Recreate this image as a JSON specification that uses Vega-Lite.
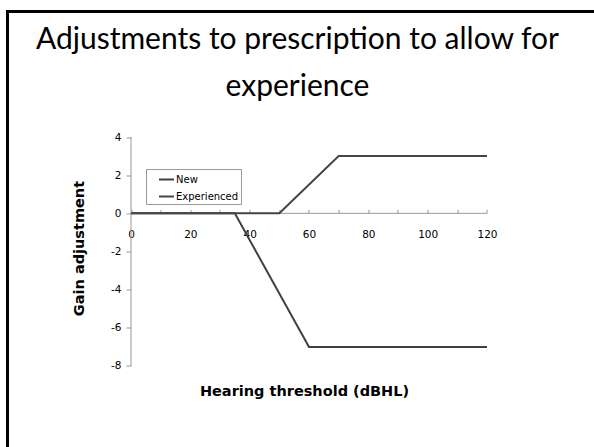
{
  "$schema": "https://vega.github.io/schema/vega-lite/v6.json",
  "width": 600,
  "height": 446,
  "autosize": "none",
  "padding": {"left": 7.5, "top": 11.5, "right": -13.5, "bottom": -10.5},
  "background": "white",
  "title": {
    "text": ["Adjustments to prescription to allow for", "experience"],
    "font": "Lato",
    "fontSize": 30,
    "fontWeight": "normal",
    "color": "#000000",
    "anchor": "middle",
    "frame": "group",
    "baseline": "top",
    "offset": 0,
    "dy": 90,
    "dx": -10,
    "lineHeight": 47
  },
  "datasets": {
    "axislines": [
      {"x": 0, "x2": 120, "y": 0, "y2": 0},
      {"x": 0, "x2": 0, "y": -8, "y2": 4}
    ],
    "series": [
      {"series": "New", "x": 0, "y": 0},
      {"series": "New", "x": 35, "y": 0},
      {"series": "New", "x": 60, "y": -7},
      {"series": "New", "x": 120, "y": -7},
      {"series": "Experienced", "x": 0, "y": 0},
      {"series": "Experienced", "x": 50, "y": 0},
      {"series": "Experienced", "x": 70, "y": 3},
      {"series": "Experienced", "x": 120, "y": 3}
    ]
  },
  "encoding": {
    "x": {
      "field": "x",
      "type": "quantitative",
      "scale": {"domain": [-41.63, 160.62], "nice": false, "zero": false},
      "axis": {
        "orient": "bottom",
        "offset": -244.2,
        "domain": false,
        "grid": false,
        "values": [0, 10, 20, 30, 40, 50, 60, 70, 80, 90, 100, 110, 120],
        "labelExpr": "datum.value % 20 === 0 ? datum.label : ''",
        "tickSize": -4,
        "tickColor": "#999999",
        "labelFont": "DejaVu Sans",
        "labelFontSize": 10.5,
        "labelColor": "#000000",
        "labelPadding": 20,
        "labelBaseline": "top",
        "title": "Hearing threshold (dBHL)",
        "titleFont": "DejaVu Sans",
        "titleFontSize": 14.5,
        "titleFontWeight": "bold",
        "titleColor": "#000000",
        "titleX": 296.5,
        "titleY": 177.7,
        "titleBaseline": "middle",
        "titleAnchor": "middle"
      }
    },
    "y": {
      "field": "y",
      "type": "quantitative",
      "scale": {"domain": [-12.796, 10.578], "nice": false, "zero": false},
      "axis": {
        "orient": "left",
        "offset": -123.5,
        "domain": false,
        "grid": false,
        "values": [-8, -6, -4, -2, 0, 2, 4],
        "labelExpr": "datum.value < 0 ? '-' + abs(datum.value) : '' + datum.value",
        "tickSize": 5,
        "tickColor": "#999999",
        "labelFont": "DejaVu Sans",
        "labelFontSize": 10.5,
        "labelColor": "#000000",
        "labelPadding": 5,
        "title": "Gain adjustment",
        "titleFont": "DejaVu Sans",
        "titleFontSize": 14.5,
        "titleFontWeight": "bold",
        "titleColor": "#000000",
        "titleAngle": -90,
        "titleX": -52,
        "titleY": 236.5,
        "titleBaseline": "middle",
        "titleAlign": "center"
      }
    }
  },
  "layer": [
    {
      "data": {"name": "axislines"},
      "mark": {"type": "rule", "color": "#999999", "strokeWidth": 1},
      "encoding": {
        "x2": {"field": "x2"},
        "y2": {"field": "y2"}
      }
    },
    {
      "data": {"name": "series"},
      "mark": {"type": "line", "strokeWidth": 2, "interpolate": "linear"},
      "encoding": {
        "color": {
          "field": "series",
          "type": "nominal",
          "scale": {"domain": ["New", "Experienced"], "range": ["#404040", "#454545"]},
          "legend": {
            "orient": "none",
            "legendX": 138.5,
            "legendY": 157.5,
            "title": null,
            "symbolType": "stroke",
            "symbolSize": 225,
            "symbolStrokeWidth": 2,
            "symbolOffset": 10,
            "labelFont": "DejaVu Sans",
            "labelFontSize": 10,
            "labelColor": "#000000",
            "labelOffset": 1,
            "labelExpr": "datum.label + '\u00a0\u00a0\u00a0\u00a0'",
            "strokeColor": "#999999",
            "fillColor": "white",
            "padding": 2,
            "rowPadding": 3
          }
        }
      }
    }
  ],
  "config": {
    "view": {"stroke": "#000000", "strokeWidth": 3}
  }
}
